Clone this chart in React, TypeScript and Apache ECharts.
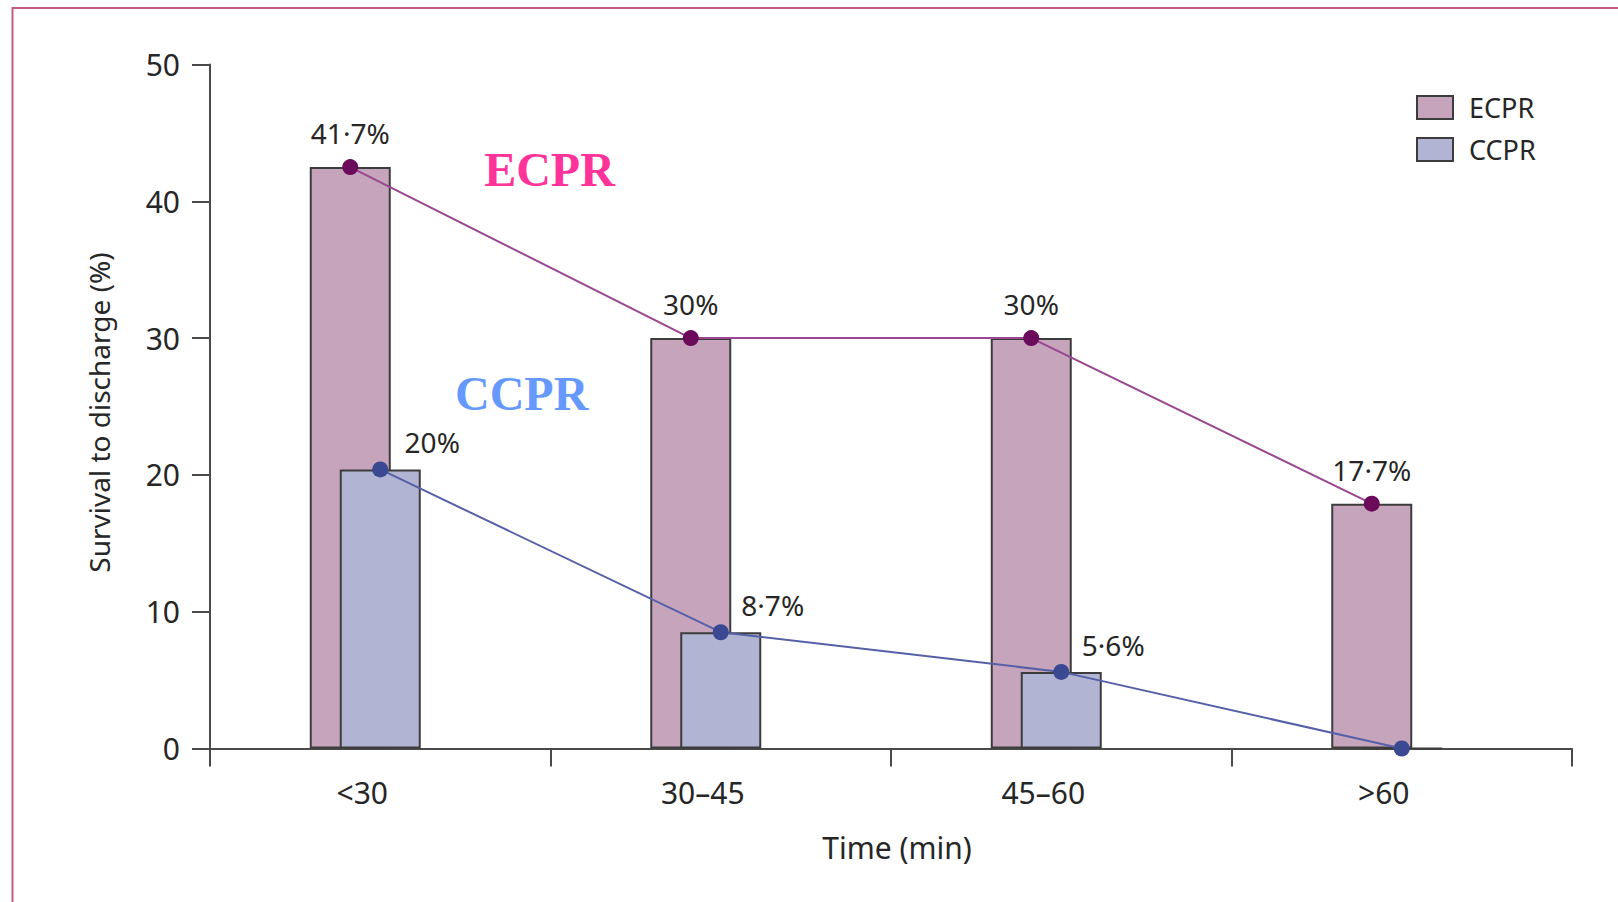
import React, { useEffect, useRef } from 'react';
import * as echarts from 'echarts';

const categories = ['<30', '30–45', '45–60', '>60'];
const ecprValues = [42.5, 30, 30, 17.9];
const ccprValues = [20.4, 8.5, 5.6, 0];
const ecprLabels = ['41·7%', '30%', '30%', '17·7%'];
const ccprLabels = ['20%', '8·7%', '5·6%', ''];
const yMin = 0;
const yMax = 50;
const yInterval = 10;

export default function App() {
  const ref = useRef<HTMLDivElement>(null);
  useEffect(() => {
    document.body.style.margin = '0';
    const chart = echarts.init(ref.current as HTMLDivElement, null, { renderer: 'svg' });
    const font = '"Noto Sans", "Open Sans", sans-serif';
    const textColor = '#262626';
    const axisColor = '#4a4a4a';
    const gridBase = { top: 64.5, bottom: 153.5, containLabel: false };
    chart.setOption({
      animation: false,
      backgroundColor: '#ffffff',
      grid: [
        { ...gridBase, left: 210, right: 46 },
        { ...gridBase, left: 180, right: 76 },
      ],
      xAxis: [
        {
          type: 'category',
          gridIndex: 0,
          data: categories,
          boundaryGap: true,
          axisLine: { show: true, lineStyle: { color: axisColor, width: 2 } },
          axisTick: { show: true, alignWithLabel: false, interval: 0, length: 18, lineStyle: { color: axisColor, width: 2 } },
          axisLabel: { margin: 29, fontSize: 30, color: textColor, fontFamily: font, padding: [0, 36, 0, 0] },
          name: 'Time (min)',
          nameLocation: 'middle',
          nameGap: 84,
          nameTextStyle: { fontSize: 30, color: textColor, fontFamily: font, padding: [0, 0, 0, 12] },
        },
        { type: 'category', gridIndex: 1, data: categories, show: false },
      ],
      yAxis: [
        {
          type: 'value',
          gridIndex: 0,
          min: yMin,
          max: yMax,
          interval: yInterval,
          axisLine: { show: true, lineStyle: { color: axisColor, width: 2 } },
          axisTick: { show: true, length: 18, lineStyle: { color: axisColor, width: 2 } },
          splitLine: { show: false },
          axisLabel: { margin: 30, fontSize: 30, color: textColor, fontFamily: font },
          name: 'Survival to discharge (%)',
          nameLocation: 'middle',
          nameGap: 97,
          nameTextStyle: { fontSize: 28, color: textColor, fontFamily: font, padding: [0, 12, 0, 0] },
        },
        { type: 'value', gridIndex: 1, min: yMin, max: yMax, interval: yInterval, show: false },
      ],
      legend: {
        data: ['ECPR', 'CCPR'],
        orient: 'vertical',
        left: 1411,
        top: 89,
        icon: 'rect',
        itemWidth: 36,
        itemHeight: 23,
        itemGap: 15,
        textStyle: { fontSize: 27, fontFamily: font, color: textColor, padding: [0, 0, 0, 11] },
      },
      graphic: [
        {
          type: 'rect',
          silent: true,
          z: -1,
          shape: { x: 12.5, y: 8, width: 1700, height: 1000 },
          style: { fill: 'none', stroke: '#c65a82', lineWidth: 2 },
        },
        {
          type: 'text',
          x: 549.5,
          y: 169,
          style: {
            text: 'ECPR',
            fontSize: 48,
            fontWeight: 'bold',
            fontFamily: '"Liberation Serif", serif',
            fill: '#ff3399',
            align: 'center',
            verticalAlign: 'middle',
          },
        },
        {
          type: 'text',
          x: 521.7,
          y: 393.3,
          style: {
            text: 'CCPR',
            fontSize: 48,
            fontWeight: 'bold',
            fontFamily: '"Liberation Serif", serif',
            fill: '#6699ff',
            align: 'center',
            verticalAlign: 'middle',
          },
        },
      ],
      series: [
        {
          name: 'ECPR',
          type: 'bar',
          xAxisIndex: 1,
          yAxisIndex: 1,
          data: ecprValues,
          barWidth: 81,
          itemStyle: { color: '#c6a4bc', borderColor: '#3c3c3c', borderWidth: 2 },
          z: 2,
        },
        {
          name: 'CCPR',
          type: 'bar',
          xAxisIndex: 0,
          yAxisIndex: 0,
          data: ccprValues,
          barWidth: 81,
          itemStyle: { color: '#b2b4d3', borderColor: '#3c3c3c', borderWidth: 2 },
          z: 3,
        },
        {
          name: 'ECPR line',
          type: 'line',
          xAxisIndex: 1,
          yAxisIndex: 1,
          data: ecprValues,
          symbol: 'circle',
          symbolSize: 16,
          lineStyle: { color: '#9a4690', width: 2 },
          itemStyle: { color: '#6c0a5c' },
          label: {
            show: true,
            position: 'top',
            distance: 12,
            formatter: (p: any) => ecprLabels[p.dataIndex],
            fontSize: 28,
            fontFamily: font,
            color: textColor,
          },
          z: 5,
        },
        {
          name: 'CCPR line',
          type: 'line',
          xAxisIndex: 0,
          yAxisIndex: 0,
          data: ccprValues,
          symbol: 'circle',
          symbolSize: 16,
          lineStyle: { color: '#5560a8', width: 2 },
          itemStyle: { color: '#3a4991' },
          label: {
            show: true,
            position: 'top',
            distance: 5,
            offset: [52, 0],
            formatter: (p: any) => ccprLabels[p.dataIndex],
            fontSize: 28,
            fontFamily: font,
            color: textColor,
          },
          z: 5,
        },
      ],
    });
    return () => chart.dispose();
  }, []);
  return <div ref={ref} style={{ width: 1618, height: 902 }} />;
}
